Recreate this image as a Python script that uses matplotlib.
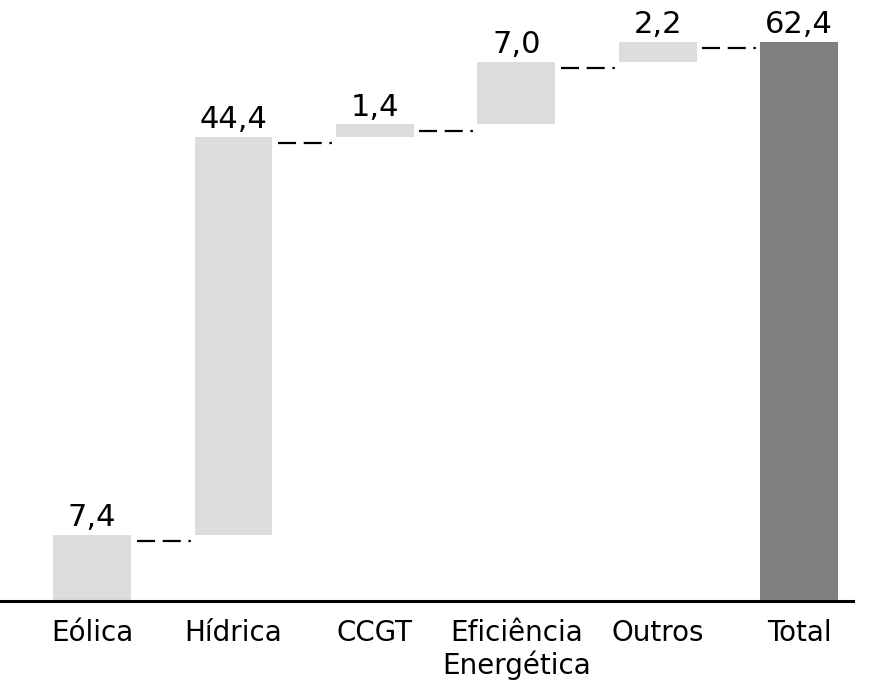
"""Waterfall chart of contributions per source."""

import matplotlib.pyplot as plt
import numpy as np

categories = ["Eólica", "Hídrica", "CCGT", "Eficiência\nEnergética", "Outros", "Total"]
steps = [7.4, 44.4, 1.4, 7.0, 2.2]

STEP_COLOR = "#dcdcdc"
TOTAL_COLOR = "#808080"

plt.rcParams["font.family"] = ["DejaVu Sans"]
plt.rcParams["lines.scale_dashes"] = False


def fmt(value):
    return "{:.1f}".format(value).replace(".", ",")


def waterfall():
    """Draw the stacked steps followed by the total bar."""
    steps_arr = np.array(steps)
    tops = np.cumsum(steps_arr)
    bottoms = tops - steps_arr
    total = tops[-1]

    heights = list(steps_arr) + [total]
    starts = list(bottoms) + [0.0]
    colors = [STEP_COLOR] * len(steps) + [TOTAL_COLOR]
    x = np.arange(len(categories))
    width = 0.55

    fig = plt.figure(figsize=(8.71, 6.86), dpi=100)
    ax = fig.add_axes([0.0, 85 / 686, 853 / 871, 601 / 686])

    ax.bar(x, heights, width, bottom=starts, color=colors, linewidth=0)

    # connectors between consecutive bars
    for i, level in enumerate(tops):
        ax.plot([x[i] + width / 2 + 0.04, x[i + 1] - width / 2],
                [level - 0.7, level - 0.7],
                color="black", linewidth=1.6,
                linestyle=(0, (13, 5.5, 13, 5.5, 1.8, 40)))

    for xi, start, h in zip(x, starts, heights):
        ax.annotate(fmt(h), (xi, start + h), xytext=(0, 2),
                    textcoords="offset points", ha="center", va="bottom",
                    fontsize=22)

    ax.set_xlim(-0.65, 5.38)
    ax.set_ylim(0, 67.1)
    ax.set_xticks(x)
    ax.set_xticklabels(categories, fontsize=20, linespacing=1.15)
    ax.tick_params(axis="x", length=0, pad=13)
    ax.set_yticks([])
    for side in ("top", "right", "left"):
        ax.spines[side].set_visible(False)
    ax.spines["bottom"].set_linewidth(2.2)
    ax.spines["bottom"].set_color("black")

    fig.savefig("out.png", dpi=100)


if __name__ == '__main__':
    waterfall()
